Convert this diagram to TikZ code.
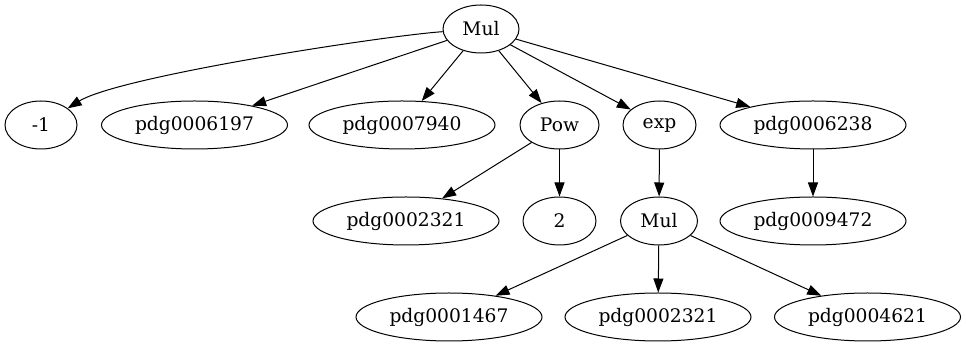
\documentclass[tikz,border=0pt]{standalone}
\usepackage{fontspec}
\setmainfont{DejaVu Serif}
\usetikzlibrary{shapes.geometric,arrows.meta}
\begin{document}
\begin{tikzpicture}[x=1pt,y=1pt,
  nd/.style={draw,ellipse,line width=1pt,inner sep=0pt,minimum height=48pt,font=\fontsize{18.67}{22}\selectfont},
  pdg/.style={nd,minimum width=186pt},
  arr/.style={-{Triangle[length=14pt,width=10pt]},line width=1pt}]
\useasboundingbox (0,0) rectangle (966,347);
\node[nd,minimum width=76pt] (m0) at (481,318) {Mul};
\node[nd,minimum width=72pt] (n1) at (41,222) {-1};
\node[pdg] (p6197) at (194.5,222) {pdg0006197};
\node[pdg] (p7940) at (402,222) {pdg0007940};
\node[nd,minimum width=79pt] (pow) at (559.5,222) {Pow};
\node[nd,minimum width=73pt] (exp) at (659.5,222) {exp};
\node[pdg] (p6238) at (813,222) {pdg0006238};
\node[pdg] (p2321a) at (406,126) {pdg0002321};
\node[nd,minimum width=73pt] (two) at (559.5,126) {2};
\node[nd,minimum width=77pt] (m1) at (659,126) {Mul};
\node[pdg] (p9472) at (813,126) {pdg0009472};
\node[pdg] (p1467) at (449,30) {pdg0001467};
\node[pdg] (p2321b) at (658,30) {pdg0002321};
\node[pdg] (p4621) at (867.5,30) {pdg0004621};
\draw[arr] (m0) to[out=184,in=32,looseness=0.4] (n1);
\draw[arr] (m0) -- (p6197);
\draw[arr] (m0) -- (p7940);
\draw[arr] (m0) -- (pow);
\draw[arr] (m0) -- (exp);
\draw[arr] (m0) -- (p6238);
\draw[arr] (pow) -- (p2321a);
\draw[arr] (pow) -- (two);
\draw[arr] (exp) -- (m1);
\draw[arr] (p6238) -- (p9472);
\draw[arr] (m1) -- (p1467);
\draw[arr] (m1) -- (p2321b);
\draw[arr] (m1) -- (p4621);
\end{tikzpicture}
\end{document}
